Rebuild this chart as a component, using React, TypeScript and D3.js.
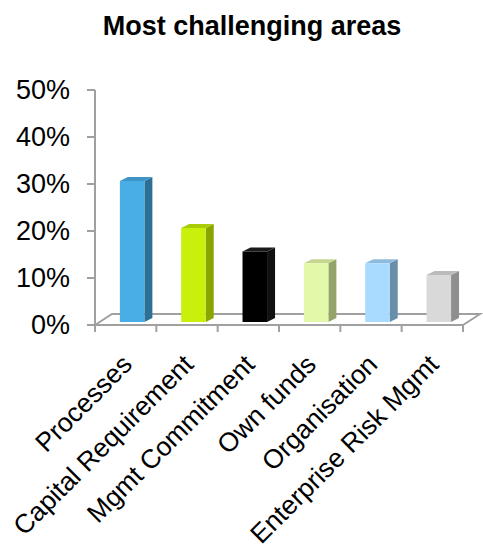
import React from "react";
import * as d3 from "d3";

const categories = ["Processes", "Capital Requirement", "Mgmt Commitment", "Own funds", "Organisation", "Enterprise Risk Mgmt"];
const values = [0.30, 0.20, 0.15, 0.125, 0.125, 0.10];
const frontColors = ["#49AEE6", "#C8F00A", "#000000", "#E3F9AA", "#A8DBFF", "#D9D9D9"];
const sideColors = ["#2C7097", "#8AA500", "#111111", "#93A36A", "#688EAA", "#8F8F8F"];
const topColors = ["#3E95C5", "#A9CC08", "#1a1a1a", "#C4D690", "#8FBBDA", "#BBBBBB"];
const yTicks = [0, 0.1, 0.2, 0.3, 0.4, 0.5];
const title = "Most challenging areas";

const W = 483, H = 552;
const font = "'Liberation Sans', Arial, sans-serif";
const axisColor = "#A0A0A0";

export default function App() {
  const x = d3.scaleBand<string>().domain(categories).range([95, 463]).padding(0);
  const y = d3.scaleLinear().domain([0, 0.5]).range([325, 90]);
  const fmt = d3.format(".0%");
  const floorD = { dx: 17, dy: -11 };
  const barShift = { dx: 4, dy: -3 };
  const barD = { dx: 8, dy: -4 };
  const bw = x.bandwidth();
  const barW = bw * 0.4;
  const barOff = bw * 0.34;

  const x0 = x.range()[0], x1 = x.range()[1];
  const y0 = y(0);

  return (
    <svg width={W} height={H} style={{ position: "absolute", left: 0, top: 0, background: "#fff" }}>
      <text x={252} y={35} textAnchor="middle" fontFamily={font} fontWeight="bold" fontSize={27} fill="#000">{title}</text>

      {/* floor */}
      <g stroke={axisColor} strokeWidth={2} fill="none">
        <path d={`M${x0},${y0} L${x0 + floorD.dx},${y0 + floorD.dy} L${x1 + floorD.dx},${y0 + floorD.dy} L${x1},${y0}`} />
      </g>

      {/* bars */}
      {categories.map((c, i) => {
        const bx = (x(c) as number) + barOff + barShift.dx;
        const yb = y(0) + barShift.dy;
        const yt = y(values[i]) + barShift.dy;
        const side = `M${bx + barW},${yt} L${bx + barW + barD.dx},${yt + barD.dy} L${bx + barW + barD.dx},${yb + barD.dy} L${bx + barW},${yb} Z`;
        const top = `M${bx},${yt} L${bx + barD.dx},${yt + barD.dy} L${bx + barW + barD.dx},${yt + barD.dy} L${bx + barW},${yt} Z`;
        return (
          <g key={c}>
            <path d={side} fill={sideColors[i]} />
            <path d={top} fill={topColors[i]} />
            <rect x={bx} y={yt} width={barW} height={yb - yt} fill={frontColors[i]} />
          </g>
        );
      })}

      {/* front floor edge & category ticks */}
      <g stroke={axisColor} strokeWidth={2}>
        <line x1={x0} x2={x1} y1={y0} y2={y0} />
        {[...categories.map((c) => x(c) as number), x1].map((tx, i) => (
          <line key={i} x1={tx} x2={tx} y1={y0} y2={y0 + 7} />
        ))}
      </g>

      {/* y axis */}
      <g stroke={axisColor} strokeWidth={2}>
        <line x1={x0} x2={x0} y1={y(0.5)} y2={y0 + 1} />
        {yTicks.map((t) => (
          <line key={t} x1={x0 - 8} x2={x0} y1={y(t)} y2={y(t)} />
        ))}
      </g>
      {yTicks.map((t) => (
        <text key={t} x={70} y={y(t)} dy="0.35em" textAnchor="end" fontFamily={font} fontSize={27} fill="#000">{fmt(t)}</text>
      ))}

      {/* category labels */}
      {categories.map((c) => {
        const cx = (x(c) as number) + bw / 2 + 8;
        const cy = 366;
        return (
          <text key={c} transform={`translate(${cx},${cy}) rotate(-45)`} textAnchor="end" fontFamily={font} fontSize={26.5} fill="#000">{c}</text>
        );
      })}
    </svg>
  );
}
